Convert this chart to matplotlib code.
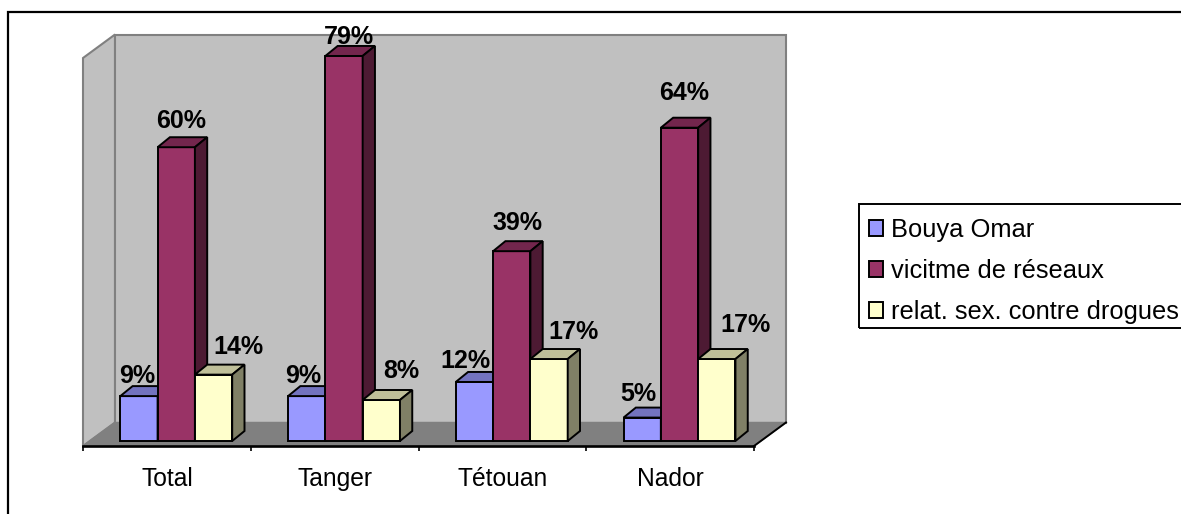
import matplotlib
matplotlib.use('Agg')
import matplotlib.pyplot as plt
from matplotlib.patches import Polygon, Rectangle

plt.rcParams['font.family'] = ['Liberation Sans', 'DejaVu Sans']

W, H = 1181, 514

# ── Data ───────────────────────────────────────────────────────────────────
categories = ['Total', 'Tanger', 'Tétouan', 'Nador']
series_names = ['Bouya Omar', 'vicitme de réseaux', 'relat. sex. contre drogues']
bouya = [9.2, 9.2, 12.1, 4.8]
victime = [60.2, 78.9, 38.9, 64.2]
relat = [13.6, 8.4, 16.8, 16.8]

# (front, top, side) shades for each series
FRONTS = ['#9999FF', '#993366', '#FFFFCC']
TOPS = ['#7373BF', '#73264D', '#BFBF99']
SIDES = ['#666699', '#4D1A33', '#808066']
WALL = '#C0C0C0'
FLOOR = '#808080'

# hand placed data labels: offsets from the bar's top centre, in pixels
LABEL_DX = [[-1.5, 4.5, 25], [-3.5, 4.5, 20], [-9, 6, 24], [-3.5, 5, 29]]
LABEL_DY = [[13, 19, 21], [13, 12, 22], [14, 21, 20], [17, 28, 27]]

# ── Axes geometry (pixels) ─────────────────────────────────────────────────
AX_L, AX_R, AX_BOTTOM, AX_TOP = 83, 754, 446, 58
BAR_BASE = 441
PX_X = (AX_R - AX_L) / len(categories)   # pixels per category
PX_Y = 4.88                              # pixels per percentage point

fig = plt.figure(figsize=(W / 100, H / 100), dpi=100, facecolor='white')
ax = fig.add_axes([AX_L / W, 1 - AX_BOTTOM / H, (AX_R - AX_L) / W, (AX_BOTTOM - AX_TOP) / H])
ax.patch.set_visible(False)
y0 = -(AX_BOTTOM - BAR_BASE) / PX_Y
y1 = y0 + (AX_BOTTOM - AX_TOP) / PX_Y
ax.set_xlim(0, len(categories))
ax.set_ylim(y0, y1)

# ── Walls and floor ────────────────────────────────────────────────────────
wdx, wdy = 32 / PX_X, 23.5 / PX_Y
xn = len(categories)
ax.add_patch(Polygon([(0, y0), (wdx, y0 + wdy), (wdx, y1 + wdy), (0, y1)], closed=True,
                     fc=WALL, ec=FLOOR, lw=1.5, clip_on=False, zorder=1))
ax.add_patch(Rectangle((wdx, y0 + wdy), xn, y1 - y0, fc=WALL, ec=FLOOR, lw=1.5,
                       clip_on=False, zorder=1))
ax.add_patch(Polygon([(0, y0), (xn, y0), (xn + wdx, y0 + wdy), (wdx, y0 + wdy)], closed=True,
                     fc=FLOOR, ec=FLOOR, lw=1, clip_on=False, zorder=1.5))
ax.plot([xn, xn + wdx], [y0, y0 + wdy], color='black', lw=1.4, clip_on=False, zorder=1.6)

# ── Bars ───────────────────────────────────────────────────────────────────
bar_w = 37.3 / PX_X
bar_start = 37.3 / PX_X
ddx, ddy = 12.3 / PX_X, 10 / PX_Y
z = 3
for i in range(len(categories)):
    for s, vals in enumerate([bouya, victime, relat]):
        v = vals[i]
        left = i + bar_start + s * bar_w
        right = left + bar_w
        ax.bar(left, v, width=bar_w, align='edge', color=FRONTS[s], edgecolor='black',
               linewidth=1.4, zorder=z, clip_on=False)
        ax.add_patch(Polygon([(left, v), (right, v), (right + ddx, v + ddy), (left + ddx, v + ddy)],
                             closed=True, fc=TOPS[s], ec='black', lw=1.4, clip_on=False, zorder=z))
        ax.add_patch(Polygon([(right, 0), (right + ddx, ddy), (right + ddx, v + ddy), (right, v)],
                             closed=True, fc=SIDES[s], ec='black', lw=1.4, clip_on=False, zorder=z))
        z += 1

# ── Data labels ────────────────────────────────────────────────────────────
for i in range(len(categories)):
    for s, vals in enumerate([bouya, victime, relat]):
        cx = i + bar_start + (s + 0.5) * bar_w
        ax.annotate(f'{vals[i]:.0f}%', (cx, vals[i]),
                    xytext=(LABEL_DX[i][s] * 0.72, LABEL_DY[i][s] * 0.72),
                    textcoords='offset points', ha='center', va='baseline',
                    fontsize=18, fontweight='bold', color='black', zorder=50,
                    annotation_clip=False)

# ── Axis ───────────────────────────────────────────────────────────────────
for name in ['top', 'right', 'left']:
    ax.spines[name].set_visible(False)
ax.spines['bottom'].set_linewidth(1.9)
ax.spines['bottom'].set_zorder(2)
ax.set_yticks([])
ax.set_xticks(range(len(categories) + 1))
ax.set_xticklabels([])
ax.set_xticks([i + 0.5 for i in range(len(categories))], minor=True)
ax.set_xticklabels(categories, minor=True, fontsize=17.7)
ax.tick_params(axis='x', which='major', length=3.6, width=1.2, direction='out')
ax.tick_params(axis='x', which='minor', length=0, pad=15)

# ── Legend: frameless entries inside a box that runs off the right edge ────
handles = [Rectangle((0, 0), 1, 1, fc=FRONTS[s], ec='black', lw=1.4) for s in range(3)]
leg = ax.legend(handles, series_names, loc='upper left',
                bbox_to_anchor=(854.5 / W, 1 - 204 / H), bbox_transform=fig.transFigure,
                fontsize=18.4, frameon=False, borderaxespad=0, borderpad=0.55,
                labelspacing=0.66, handlelength=0.56, handleheight=0.56,
                handletextpad=0.3)
leg.set_zorder(60)
fig.add_artist(Rectangle((858.5 / W, 1 - 328 / H), 1, 124 / H, transform=fig.transFigure,
                         fc='none', ec='black', lw=1.4))

# ── Outer frame, cropped at the right and bottom of the picture ────────────
fig.add_artist(Rectangle((7.5 / W, -0.2), 1.2, 1.2 - 12.5 / H, transform=fig.transFigure,
                         fc='none', ec='black', lw=1.6))

fig.savefig('out.png', dpi=100, facecolor='white')
plt.close()
